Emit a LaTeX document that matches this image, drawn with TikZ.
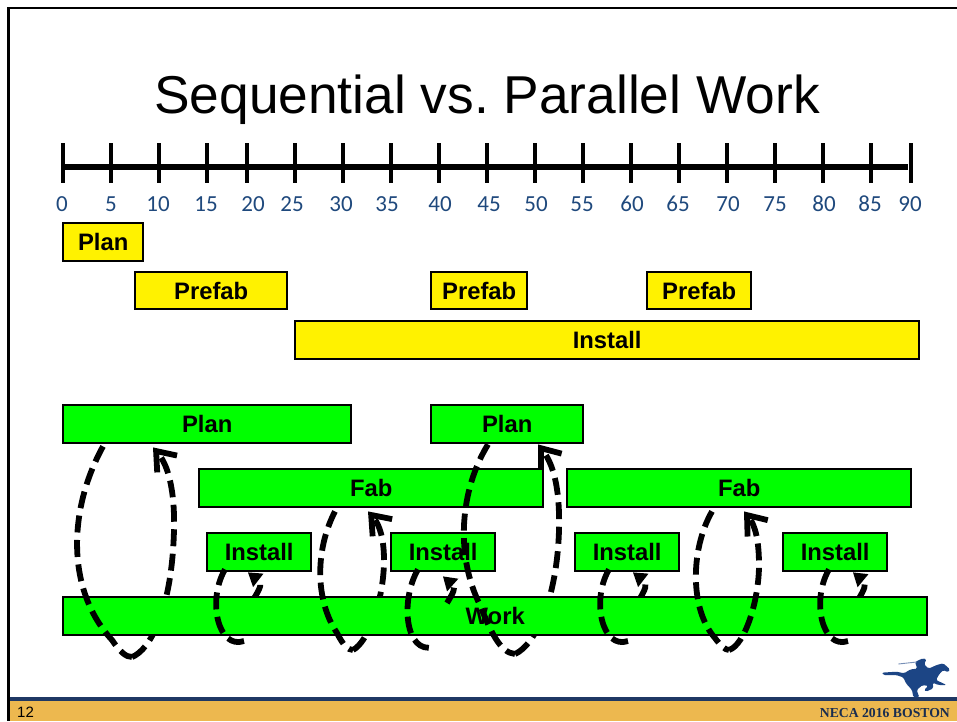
\documentclass[tikz,border=0pt]{standalone}
\usepackage{fontspec}
\setmainfont{Liberation Sans}
\newfontfamily\tickfont{Carlito}
\newfontfamily\logofont{Liberation Serif}
\usetikzlibrary{arrows.meta,calc}
\pgfdeclarelayer{rear}
\pgfsetlayers{rear,main}
\definecolor{navy}{HTML}{1F3864}
\definecolor{tickblue}{HTML}{1F497D}
\definecolor{gold}{HTML}{EDB84F}
\definecolor{horse}{HTML}{1C4585}
\tikzset{
  barbox/.style={draw=black,line width=2.4pt,inner sep=0pt,anchor=north west,font=\fontsize{23.8}{24}\selectfont\bfseries},
  ybox/.style={barbox,fill=yellow},
  gbox/.style={barbox,fill=green},
  tickmark/.style={line width=4pt},
  ticklabel/.style={text=tickblue,font=\fontsize{23}{23}\selectfont\tickfont,inner sep=0pt,anchor=base},
  loopline/.style={line width=5.8pt,dash pattern=on 17pt off 7.5pt},
  bighead/.style={loopline,-{Straight Barb[length=17pt,width=26pt]}},
  smallhead/.style={loopline,-{Triangle[length=13pt,width=17pt,line width=0pt]}},
}
\newcommand{\taskbar}[6]{\node[#1,minimum width=#4pt,minimum height=#5pt] (#2) at (#3) {#6};}
\begin{document}
\frenchspacing
\begin{tikzpicture}[x=1pt,y=-1pt]
\useasboundingbox (0,0) rectangle (957,721);
\begin{pgfonlayer}{rear}
\fill[white] (0,0) rectangle (957,721);
\end{pgfonlayer}
% band and frame
\fill[gold] (9,701) rectangle (957,721);
\fill[navy] (9,697) rectangle (957,701);
\draw[line width=2.4pt] (957,8) -- (8.3,8) -- (8.3,721);
\node[inner sep=0pt,anchor=west,font=\fontsize{15}{15}\selectfont] (pageno) at (17,712) {12};
\node[inner sep=0pt,anchor=east,text=navy!80!black,font=\fontsize{13.7}{13.7}\selectfont\logofont\bfseries] (conf) at (950,712.5) {NECA 2016 BOSTON};
% horse
\begin{scope}[shift={(800,640)},x=0.3333pt,y=-0.3333pt]
\fill[horse,rounded corners=1.5pt] (245,98) -- (290,95) -- (312,100) -- (332,88) -- (352,86) -- (345,66) -- (368,55) -- (380,58) -- (372,72) -- (386,86) -- (410,75) -- (430,70) -- (450,88) -- (445,97) -- (430,90) -- (418,102) -- (408,120) -- (440,135) -- (415,135) -- (398,128) -- (400,145) -- (378,155) -- (372,150) -- (385,138) -- (368,135) -- (350,150) -- (358,172) -- (340,172) -- (336,150) -- (318,130) -- (310,112) -- (288,105) -- (250,105) -- cycle;
\draw[horse!60,line width=0.9pt] (295,72) -- (350,66);
\end{scope}
% title
\node[inner sep=0pt,font=\fontsize{53.3}{53.3}\selectfont] (title) at (487,100) {Sequential vs. Parallel Work};
% ruler
\draw[line width=6pt] (62,167) -- (908,167);
\foreach \x in {63,111,159,207,247,295,343,391,439,487,535,583,631,679,727,775,823,871,911}
  \draw[tickmark] (\x,143) -- (\x,183);
\foreach \x/\t in {62/0,111/5,158/10,206/15,253/20,292/25,341/30,387/35,440/40,489/45,536/50,582/55,632/60,678/65,728/70,775/75,824/80,870/85,910/90}
  \node[ticklabel] (t\t) at (\x,211) {\t};
% yellow bars
\taskbar{ybox}{yplan}{62,222}{80}{38}{Plan}
\taskbar{ybox}{yprefabA}{134,271}{152}{37}{Prefab}
\taskbar{ybox}{yprefabB}{430,271}{96}{37}{Prefab}
\taskbar{ybox}{yprefabC}{646,271}{104}{37}{Prefab}
\taskbar{ybox}{yinstall}{294,320}{624}{38}{Install}
% green bars
\taskbar{gbox}{planA}{62,404}{288}{38}{Plan}
\taskbar{gbox}{planB}{430,404}{152}{38}{Plan}
\taskbar{gbox}{fabA}{198,468}{344}{38}{Fab}
\taskbar{gbox}{fabB}{566,468}{344}{38}{Fab}
\taskbar{gbox}{instA}{206,532}{104}{38}{Install}
\taskbar{gbox}{instB}{390,532}{104}{38}{Install}
\taskbar{gbox}{instC}{574,532}{104}{38}{Install}
\taskbar{gbox}{instD}{782,532}{104}{38}{Install}
\taskbar{gbox}{work}{62,596}{864}{38}{Work}
% free turning points under the Work bar
\coordinate (turnA) at (132,657);
\coordinate (turnB) at (353,650);
\coordinate (turnC) at (515,654);
\coordinate (turnD) at (729,650);
\coordinate (endE) at (244,641);
\coordinate (endF) at (434,647);
\coordinate (endG) at (628,641);
\coordinate (endH) at (848,641);
\coordinate (tailE) at (253,600);
\coordinate (tailF) at (447,603);
\coordinate (tailG) at (639,600);
\coordinate (tailH) at (858,600);
% parts that pass behind the bars
\begin{pgfonlayer}{rear}
\draw[bighead] (turnA) .. controls (150,650) and (172,610) .. (174,530) .. controls (175,490) and (168,465) .. ([xshift=91pt,yshift=-3pt]planA.south west);
\draw[bighead] (turnB) .. controls (368,642) and (384,600) .. (384,560) .. controls (384,540) and (380,525) .. ([xshift=170pt,yshift=-3pt]fabA.south west);
\draw[bighead] (turnC) .. controls (535,645) and (557,600) .. (559,530) .. controls (560,490) and (554,465) .. ([xshift=108pt]planB.south west);
\draw[smallhead] (tailE) .. controls (259,590) and (263,584) .. ([xshift=42pt]instA.south west);
\draw[smallhead] (tailG) .. controls (645,590) and (648,584) .. ([xshift=59pt]instC.south west);
\draw[smallhead] (tailH) .. controls (864,590) and (867,584) .. ([xshift=71pt]instD.south west);
\end{pgfonlayer}
% parts in front of the bars
\draw[smallhead] (tailF) .. controls (453,593) and (456,588) .. ([xshift=53pt,yshift=-4pt]instB.south west);
\draw[loopline] ([xshift=41pt,yshift=-2pt]planA.south west) .. controls (68,510) and (66,590) .. (112,640) .. controls (120,652) and (126,657) .. (turnA);
\draw[loopline] ([xshift=137pt,yshift=-3pt]fabA.south west) .. controls (315,550) and (315,600) .. (337,633) .. controls (343,645) and (348,650) .. (turnB);
\draw[loopline] ([xshift=58pt,yshift=0pt]planB.south west) .. controls (460,490) and (455,555) .. (480,605) .. controls (490,630) and (500,653) .. (turnC);
\draw[loopline] ([xshift=19pt,yshift=3pt]instA.south west) .. controls (207,600) and (218,650) .. (endE);
\draw[loopline] ([xshift=28pt,yshift=3pt]instB.south west) .. controls (400,600) and (405,655) .. (endF);
\draw[loopline] ([xshift=35pt,yshift=3pt]instC.south west) .. controls (591,600) and (602,650) .. (endG);
\draw[loopline] ([xshift=47pt,yshift=3pt]instD.south west) .. controls (811,600) and (822,650) .. (endH);
\draw[loopline] ([xshift=146pt,yshift=-3pt]fabB.south west) .. controls (690,550) and (690,610) .. (715,638) .. controls (720,645) and (725,650) .. (turnD);
\draw[bighead] (turnD) .. controls (745,645) and (759,600) .. (759,565) .. controls (759,540) and (755,525) .. ([xshift=178pt,yshift=-3pt]fabB.south west);
\end{tikzpicture}
\end{document}
